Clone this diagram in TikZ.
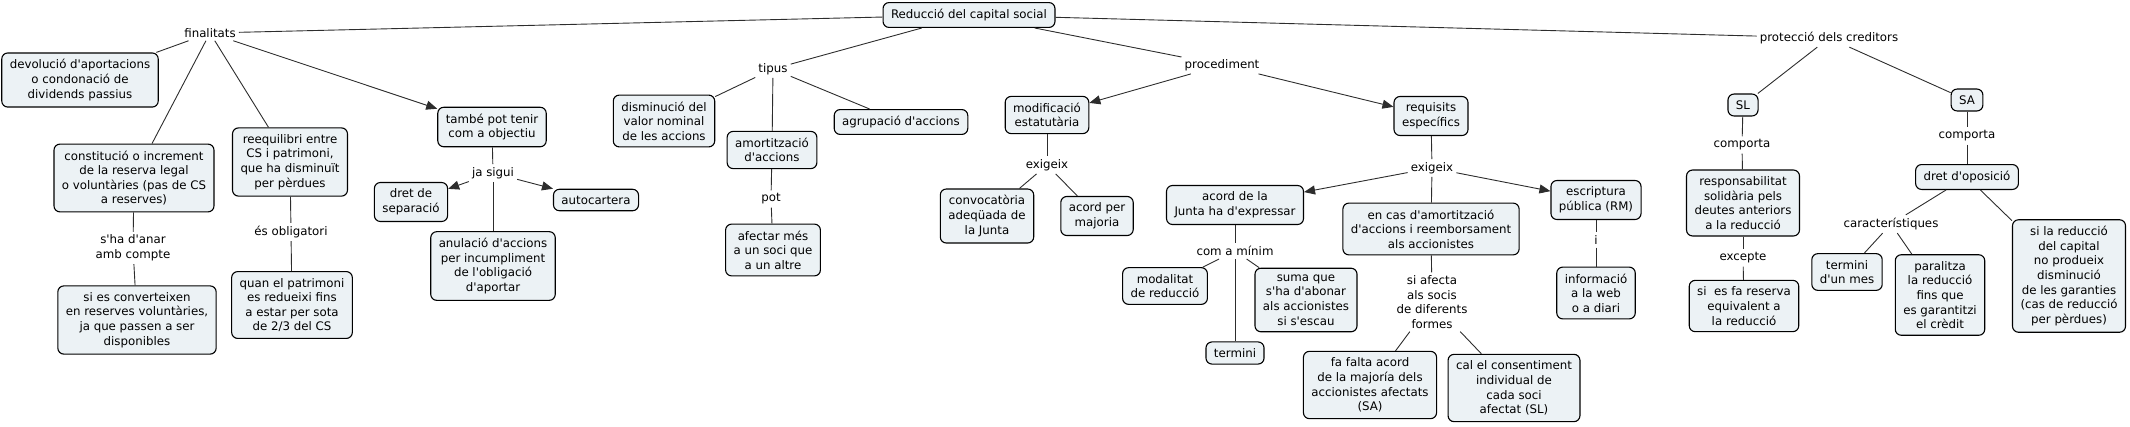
\documentclass[tikz,border=0pt]{standalone}
\usepackage{fontspec}
\setmainfont{DejaVu Sans}[Ligatures=TeXOff]
\usetikzlibrary{arrows.meta}

\definecolor{conceptfill}{RGB}{236,242,245}
\definecolor{linkgray}{RGB}{45,45,45}
\tikzset{
	concept/.style={draw=black, line width=1.1pt, fill=conceptfill, rounded corners=6pt, align=center, inner xsep=8pt, inner ysep=6.5pt},
	phrase/.style={align=center, inner sep=3pt},
	link/.style={draw=linkgray, line width=0.9pt},
	linkto/.style={link, -{Triangle[length=11pt,width=9pt]}},
}

\begin{document}
\begin{tikzpicture}[x=1pt, y=-1pt, every node/.style={font=\fontsize{11.8}{14.6}\selectfont}]
	\useasboundingbox (0,0) rectangle (2130,426);
	\node[concept] (root) at (969,15) {Reducció del capital social};
	% finalitats
	\node[phrase] (fin) at (210,33) {finalitats};
	\node[concept] (devol) at (80,80) {devolució d'aportacions\\o condonació de\\dividends passius};
	\node[concept] (consti) at (134,178) {constitució o increment\\de la reserva legal\\o voluntàries (pas de CS\\a reserves)};
	\node[concept] (reeq) at (290,162) {reequilibri entre\\CS i patrimoni,\\que ha disminuït\\per pèrdues};
	\node[phrase] (anar) at (133,248) {s'ha d'anar\\amb compte};
	\node[concept] (conv) at (137,320) {si es converteixen\\en reserves voluntàries,\\ja que passen a ser\\disponibles};
	\node[phrase] (oblig) at (291,232) {és obligatori};
	\node[concept] (quan) at (292,305) {quan el patrimoni\\es redueixi fins\\a estar per sota\\de 2/3 del CS};
	\node[concept] (tambe) at (492,127) {també pot tenir\\com a objectiu};
	\node[phrase] (jasigui) at (493,173) {ja sigui};
	\node[concept] (dret) at (411,202) {dret de\\separació};
	\node[concept] (autoc) at (596,200) {autocartera};
	\node[concept] (anul) at (493,266) {anulació d'accions\\per incumpliment\\de l'obligació\\d'aportar};
	% tipus
	\node[phrase] (tipus) at (773,69) {tipus};
	\node[concept] (dismin) at (664,121) {disminució del\\valor nominal\\de les accions};
	\node[concept] (amort) at (772,150) {amortització\\d'accions};
	\node[concept] (agrup) at (901,122) {agrupació d'accions};
	\node[phrase] (pot) at (771,199) {pot};
	\node[concept] (afectar) at (773,250) {afectar més\\a un soci que\\a un altre};
	% procediment
	\node[phrase] (proc) at (1222,65) {procediment};
	\node[concept] (modif) at (1047,115) {modificació\\estatutària};
	\node[phrase] (exigA) at (1047,165) {exigeix};
	\node[concept] (convoc) at (987,216) {convocatòria\\adeqüada de\\la Junta};
	\node[concept] (majoria) at (1097,216) {acord per\\majoria};
	\node[concept] (requis) at (1431,116) {requisits\\específics};
	\node[phrase] (exigB) at (1432,168) {exigeix};
	\node[concept] (junta) at (1235,205) {acord de la\\Junta ha d'expressar};
	\node[phrase] (minim) at (1235,251) {com a mínim};
	\node[concept] (modal) at (1165,286) {modalitat\\de reducció};
	\node[concept] (suma) at (1306,300) {suma que\\s'ha d'abonar\\als accionistes\\si s'escau};
	\node[concept] (termini) at (1235,353) {termini};
	\node[concept] (encas) at (1431,229) {en cas d'amortització\\d'accions i reemborsament\\als accionistes};
	\node[phrase] (siafecta) at (1432,302) {si afecta\\als socis\\de diferents\\formes};
	\node[concept] (fafalta) at (1370,385) {fa falta acord\\de la majoría dels\\accionistes afectats\\(SA)};
	\node[concept] (cal) at (1514,388) {cal el consentiment\\individual de\\cada soci\\afectat (SL)};
	\node[concept] (escrip) at (1596,200) {escriptura\\pública (RM)};
	\node[phrase] (ilab) at (1596,240) {i};
	\node[concept] (info) at (1596,293) {informació\\a la web\\o a diari};
	% proteccio dels creditors
	\node[phrase] (prot) at (1829,38) {protecció dels creditors};
	\node[concept] (sl) at (1743,105) {SL};
	\node[phrase] (compSL) at (1742,145) {comporta};
	\node[concept] (resp) at (1743,203) {responsabilitat\\solidària pels\\deutes anteriors\\a la reducció};
	\node[phrase] (excepte) at (1743,258) {excepte};
	\node[concept] (reserva) at (1744,306) {si\ \ es fa reserva\\equivalent a\\la reducció};
	\node[concept] (sa) at (1967,100) {SA};
	\node[phrase] (compSA) at (1967,136) {comporta};
	\node[concept] (oposi) at (1967,177) {dret d'oposició};
	\node[phrase] (caract) at (1891,224) {característiques};
	\node[concept] (mes) at (1847,272) {termini\\d'un mes};
	\node[concept] (paral) at (1940,295) {paralitza\\la reducció\\fins que\\es garantitzi\\el crèdit};
	\node[concept] (sired) at (2069,276) {si la reducció\\del capital\\no produeix\\disminució\\de les garanties\\(cas de reducció\\per pèrdues)};

	\draw[link] (root) -- (fin);
	\draw[link] (fin) -- (devol);
	\draw[link] (fin) -- (consti);
	\draw[link] (fin) -- (reeq);
	\draw[linkto] (fin) -- (tambe);
	\draw[link] (consti) -- (anar);
	\draw[link] (anar) -- (conv);
	\draw[link] (reeq) -- (oblig);
	\draw[link] (oblig) -- (quan);
	\draw[link] (tambe) -- (jasigui);
	\draw[linkto] (jasigui) -- (dret);
	\draw[linkto] (jasigui) -- (autoc);
	\draw[link] (jasigui) -- (anul);

	\draw[link] (root) -- (tipus);
	\draw[link] (tipus) -- (dismin);
	\draw[link] (tipus) -- (amort);
	\draw[link] (tipus) -- (agrup);
	\draw[link] (amort) -- (pot);
	\draw[link] (pot) -- (afectar);

	\draw[link] (root) -- (proc);
	\draw[linkto] (proc) -- (modif);
	\draw[linkto] (proc) -- (requis);
	\draw[link] (modif) -- (exigA);
	\draw[link] (exigA) -- (convoc);
	\draw[link] (exigA) -- (majoria);
	\draw[link] (requis) -- (exigB);
	\draw[linkto] (exigB) -- (junta);
	\draw[linkto] (exigB) -- (escrip);
	\draw[link] (exigB) -- (encas);
	\draw[link] (junta) -- (minim);
	\draw[link] (minim) -- (modal);
	\draw[link] (minim) -- (suma);
	\draw[link] (minim) -- (termini);
	\draw[link] (encas) -- (siafecta);
	\draw[link] (siafecta) -- (fafalta);
	\draw[link] (siafecta) -- (cal);
	\draw[link] (escrip) -- (ilab);
	\draw[link] (ilab) -- (info);

	\draw[link] (root) -- (prot);
	\draw[link] (prot) -- (sl);
	\draw[link] (prot) -- (sa);
	\draw[link] (sl) -- (compSL);
	\draw[link] (compSL) -- (resp);
	\draw[link] (resp) -- (excepte);
	\draw[link] (excepte) -- (reserva);
	\draw[link] (sa) -- (compSA);
	\draw[link] (compSA) -- (oposi);
	\draw[link] (oposi) -- (caract);
	\draw[link] (caract) -- (mes);
	\draw[link] (caract) -- (paral);
	\draw[link] (oposi) -- (sired);
\end{tikzpicture}
\end{document}
